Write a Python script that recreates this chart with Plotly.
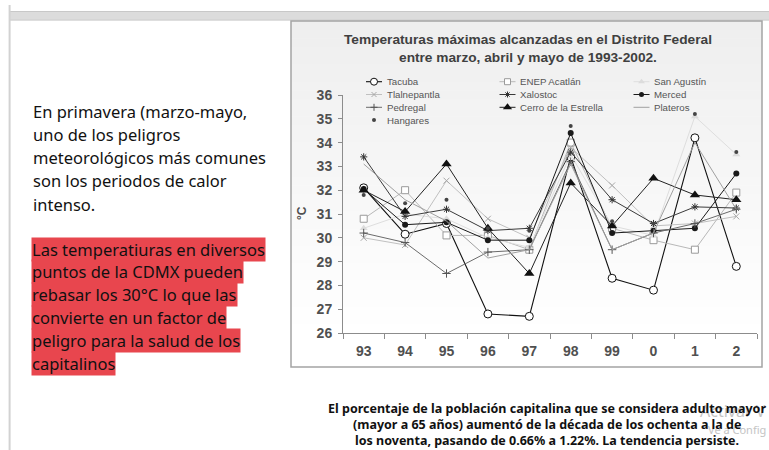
import plotly.graph_objects as go

# ---------------- data ----------------
years = ["93", "94", "95", "96", "97", "98", "99", "0", "1", "2"]

tacuba       = [32.1, 30.15, 30.6, 26.8, 26.7, 33.4, 28.3, 27.8, 34.2, 28.8]
enep_acatlan = [30.8, 32.0, 30.1, 30.1, 29.5, 34.0, 30.4, 29.9, 29.5, 31.9]
san_agustin  = [30.4, 31.0, 30.8, 30.0, 29.6, 33.5, 30.5, 30.1, 35.1, 33.5]
tlalnepantla = [30.0, 29.7, 32.4, 30.8, 30.0, 33.8, 32.2, 30.5, 30.6, 30.9]
xalostoc     = [33.4, 30.9, 31.2, 30.3, 30.4, 33.6, 31.6, 30.6, 31.3, 31.25]
merced       = [32.05, 30.55, 30.65, 29.9, 29.9, 34.4, 30.2, 30.3, 30.4, 32.7]
pedregal     = [30.2, 29.8, 28.5, 29.4, 29.5, 33.2, 29.5, 30.2, 30.6, 31.2]
cerro        = [32.0, 31.1, 33.1, 30.4, 28.5, 32.3, 30.5, 32.5, 31.8, 31.6]
plateros     = [33.1, 31.6, 30.7, 29.15, 29.5, 33.1, 29.5, 30.2, 34.0, 31.2]
hangares     = [31.8, 31.45, 31.6, 30.4, 30.3, 34.7, 30.7, 30.6, 35.2, 33.6]

series_names = ["Tacuba", "ENEP Acatlán", "San Agustín",
                "Tlalnepantla", "Xalostoc", "Merced",
                "Pedregal", "Cerro de la Estrella", "Plateros",
                "Hangares"]
series_values = [tacuba, enep_acatlan, san_agustin, tlalnepantla, xalostoc,
                 merced, pedregal, cerro, plateros, hangares]

chart_title = "Temperaturas máximas alcanzadas en el Distrito Federal<br>entre marzo, abril y mayo de 1993-2002."
y_title = "°C"

left_para = ["En primavera (marzo-mayo,", "uno de los peligros",
             "meteorológicos más comunes", "son los periodos de calor",
             "intenso."]
red_para = ["Las temperatiuras en diversos", "puntos de la CDMX pueden",
            "rebasar los 30°C lo que las", "convierte en un factor de",
            "peligro para la salud de los", "capitalinos"]
bottom_para = ["El porcentaje de la población capitalina que se considera adulto mayor",
               "(mayor a 65 años) aumentó de la década de los ochenta a la de",
               "los noventa, pasando de 0.66% a 1.22%. La tendencia persiste."]
watermark = ["Activar V", "Ve a Config"]

# ---------------- styles ----------------
W, H = 769, 450
def px(x): return x / W
def py(y): return 1 - y / H

styles = [
    dict(mode="lines+markers", line=dict(color="#111111", width=1.1),
         marker=dict(symbol="circle", size=8, color="white", line=dict(color="#111111", width=1))),
    dict(mode="lines+markers", line=dict(color="#b8b8b8", width=1),
         marker=dict(symbol="square", size=7, color="white", line=dict(color="#9a9a9a", width=1))),
    dict(mode="lines+markers", line=dict(color="#dedede", width=1),
         marker=dict(symbol="triangle-up", size=7, color="#dcdcdc", line=dict(width=0))),
    dict(mode="lines+markers", line=dict(color="#c0c0c0", width=1),
         marker=dict(symbol="x-thin-open", size=6, color="#a8a8a8", line=dict(color="#a8a8a8", width=1))),
    dict(mode="lines+markers", line=dict(color="#3a3a3a", width=1),
         marker=dict(symbol="asterisk-open", size=6, color="#333333", line=dict(color="#333333", width=1))),
    dict(mode="lines+markers", line=dict(color="#1a1a1a", width=1),
         marker=dict(symbol="circle", size=6, color="#1a1a1a", line=dict(width=0))),
    dict(mode="lines+markers", line=dict(color="#6b6b6b", width=1),
         marker=dict(symbol="cross-thin-open", size=6, color="#555555", line=dict(color="#555555", width=1))),
    dict(mode="lines+markers", line=dict(color="#222222", width=1),
         marker=dict(symbol="triangle-up", size=9, color="#111111", line=dict(width=0))),
    dict(mode="lines", line=dict(color="#a0a0a0", width=1)),
    dict(mode="markers",
         marker=dict(symbol="circle", size=4, color="#444444", line=dict(width=0))),
]

fig = go.Figure()

for name, vals, st in zip(series_names, series_values, styles):
    fig.add_trace(go.Scatter(x=years, y=vals, name=name, showlegend=False,
                             hoverinfo="skip", cliponaxis=False, **st))

# ---------------- manual legend (pixel overlay axes) ----------------
col_cx = [374, 507.5, 641.5]
row_y0, row_dy = 81.7, 12.8
annotations = []
for i, (name, st) in enumerate(zip(series_names, styles)):
    c, r = i % 3, i // 3
    cx = col_cx[c]
    cy = row_y0 + r * row_dy
    if "lines" in st["mode"]:
        fig.add_trace(go.Scatter(x=[cx - 8, cx + 8], y=[cy, cy], mode="lines",
                                 line=st["line"], xaxis="x2", yaxis="y2",
                                 showlegend=False, hoverinfo="skip"))
    if "markers" in st["mode"]:
        mk = dict(st["marker"])
        mk["size"] = max(4, mk["size"] - 1)
        fig.add_trace(go.Scatter(x=[cx], y=[cy], mode="markers", marker=mk,
                                 xaxis="x2", yaxis="y2", showlegend=False, hoverinfo="skip"))
    annotations.append(dict(x=px(cx + 10.5), y=py(cy), xref="paper", yref="paper",
                            text=name, showarrow=False, xanchor="left", yanchor="middle",
                            font=dict(family="Liberation Sans, Arial", size=9.7, color="#555555")))

# ---------------- background shapes ----------------
shapes = []
shapes.append(dict(type="rect", xref="paper", yref="paper", x0=px(10), x1=px(769),
                   y0=py(11), y1=py(20.5), fillcolor="#dcdcdc", line=dict(width=0), layer="below"))
shapes.append(dict(type="line", xref="paper", yref="paper", x0=px(10), x1=px(769),
                   y0=py(11.5), y1=py(11.5), line=dict(color="#c8c8c8", width=1), layer="below"))
shapes.append(dict(type="line", xref="paper", yref="paper", x0=px(10), x1=px(769),
                   y0=py(20), y1=py(20), line=dict(color="#cfcfcf", width=1), layer="below"))
shapes.append(dict(type="line", xref="paper", yref="paper", x0=px(9.6), x1=px(9.6),
                   y0=py(5), y1=py(450), line=dict(color="#d2d2d2", width=2), layer="below"))

bx0, bx1, by0, by1 = 291, 762, 21, 367
nb = 40
for k in range(nb):
    y0 = by0 + (by1 - by0) * k / nb
    y1 = by0 + (by1 - by0) * (k + 1) / nb
    frac = min(1.0, ((y0 + y1) / 2 - by0) / (330 - by0))
    g = int(round(238 + (255 - 238) * frac))
    shapes.append(dict(type="rect", xref="paper", yref="paper", x0=px(bx0), x1=px(bx1),
                       y0=py(y0), y1=py(y1 + 0.5), fillcolor=f"rgb({g},{g},{g})",
                       line=dict(width=0), layer="below"))
shapes.append(dict(type="rect", xref="paper", yref="paper", x0=px(bx0), x1=px(bx1),
                   y0=py(by0), y1=py(by1), line=dict(color="#a4a4a4", width=1.5),
                   fillcolor="rgba(0,0,0,0)", layer="below"))

# ---------------- text annotations ----------------
annotations.append(dict(x=px(527.5), y=py(48.5), xref="paper", yref="paper",
                        text="<b>" + chart_title + "</b>", showarrow=False,
                        xanchor="center", yanchor="middle", align="center",
                        font=dict(family="Liberation Sans, Arial", size=13.7, color="#404040")))
annotations.append(dict(x=px(302), y=py(213), xref="paper", yref="paper",
                        text="<b>" + y_title + "</b>", showarrow=False, textangle=-90,
                        xanchor="center", yanchor="middle",
                        font=dict(family="Liberation Sans, Arial", size=12, color="#505050")))

for i, line in enumerate(left_para):
    annotations.append(dict(x=px(30.5), y=py(111 + 23.3 * i), xref="paper", yref="paper",
                            text=line, showarrow=False, xanchor="left", yanchor="middle",
                            font=dict(family="Noto Sans", size=16.5, color="#111111")))
for i, line in enumerate(red_para):
    annotations.append(dict(x=px(30.5), y=py(249 + 22.9 * i), xref="paper", yref="paper",
                            text=line, showarrow=False, xanchor="left", yanchor="middle",
                            bgcolor="#e8464e", borderpad=0,
                            font=dict(family="Noto Sans", size=16.5, color="#111111")))

annotations.append(dict(x=px(768), y=py(411), xref="paper", yref="paper", text=watermark[0],
                        showarrow=False, xanchor="right", yanchor="middle",
                        font=dict(family="Noto Sans", size=16, color="#c4c4c4")))
annotations.append(dict(x=px(768), y=py(429), xref="paper", yref="paper", text=watermark[1],
                        showarrow=False, xanchor="right", yanchor="middle",
                        font=dict(family="Noto Sans", size=11, color="#c4c4c4")))

for i, line in enumerate(bottom_para):
    annotations.append(dict(x=px(547), y=py(408 + 16.3 * i), xref="paper", yref="paper",
                            text="<b>" + line + "</b>", showarrow=False,
                            xanchor="center", yanchor="middle",
                            font=dict(family="Liberation Sans Narrow, Noto Sans", size=12.5,
                                      color="#111111")))

axis_col = "#8c8c8c"
tick_font = dict(family="Liberation Sans, Arial", size=14, color="#505050", weight="bold")

fig.update_layout(
    width=W, height=H,
    margin=dict(l=0, r=0, t=0, b=0, pad=0, autoexpand=False),
    paper_bgcolor="white", plot_bgcolor="rgba(0,0,0,0)",
    showlegend=False,
    shapes=shapes, annotations=annotations,
    xaxis=dict(type="category", domain=[px(343), px(757)], range=[-0.5, 9.5],
               tickson="boundaries", ticks="outside", ticklen=5, tickcolor=axis_col,
               showline=True, linecolor=axis_col, linewidth=1, showgrid=False,
               zeroline=False, tickfont=tick_font, ticklabelstandoff=5,
               anchor="y", fixedrange=True, automargin=False),
    yaxis=dict(domain=[py(333), py(95)], range=[26, 36], dtick=1, tick0=26,
               ticks="outside", ticklen=4, tickcolor=axis_col,
               showline=True, linecolor=axis_col, linewidth=1, showgrid=False,
               zeroline=False, tickfont=tick_font, ticklabelstandoff=3,
               anchor="x", fixedrange=True, automargin=False),
    xaxis2=dict(domain=[0, 1], range=[0, W], visible=False, anchor="y2",
                fixedrange=True, automargin=False),
    yaxis2=dict(domain=[0, 1], range=[H, 0], visible=False, anchor="x2",
                fixedrange=True, automargin=False),
)

fig.write_html("out.html", config={"displayModeBar": False},
               post_script="document.body.style.margin='0';document.body.style.overflow='hidden';")
